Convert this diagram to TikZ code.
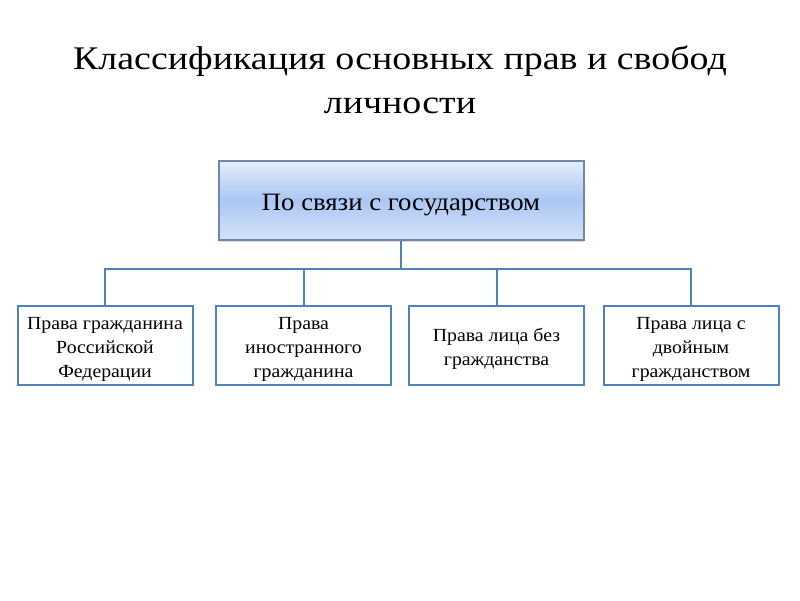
\documentclass[tikz,border=0pt]{standalone}
\usepackage{fontspec}
\setmainfont{Liberation Serif}
\newfontfamily\titlefont[FakeStretch=1.15]{Liberation Serif}
\newfontfamily\bodyfont[FakeStretch=1.07]{Liberation Serif}
\usetikzlibrary{shadows}
\definecolor{bord}{RGB}{79,129,189}
\definecolor{topbord}{RGB}{110,135,170}
\definecolor{gtop}{RGB}{228,237,252}
\definecolor{gmid}{RGB}{172,199,243}
\definecolor{gbot}{RGB}{212,226,250}
\newcommand\lowtext[1]{\raisebox{-4pt}[\height][\depth]{\begin{tabular}{@{}c@{}}#1\end{tabular}}}
\begin{document}
\begin{tikzpicture}[x=1pt,y=-1pt,
  leaf/.style={draw=bord,line width=2pt,minimum width=175pt,minimum height=79pt,font=\bodyfont\fontsize{18.5}{24}\selectfont,inner sep=1pt},
  conn/.style={draw=bord,line width=2pt}]
\useasboundingbox (0,0) rectangle (800,600);
\node[font=\titlefont\fontsize{33}{44}\selectfont,align=center] (title) at (400,80) {Классификация основных прав и свобод\\личности};
\node[draw=topbord,line width=2pt,minimum width=365pt,minimum height=79pt,
  top color=gtop,bottom color=gbot,middle color=gmid,shading=axis,
  drop shadow={shadow xshift=0pt,shadow yshift=-2pt,opacity=0.3},
  font=\bodyfont\fontsize{25}{30}\selectfont] (top) at (401,200) {\lowtext{По связи с государством}};
\node[leaf] (b1) at (105,345) {\lowtext{Права гражданина\\Российской\\Федерации}};
\node[leaf] (b2) at (303.5,345) {\lowtext{Права\\иностранного\\гражданина}};
\node[leaf] (b3) at (496.5,345) {\lowtext{Права лица без\\гражданства}};
\node[leaf] (b4) at (691,345) {\lowtext{Права лица с\\двойным\\гражданством}};
\coordinate (hub) at (401,269);
\draw[conn] (top.south) -- (hub);
\draw[conn] (b1.north) |- (hub) -| (b4.north);
\draw[conn] (b2.north) -- (b2.north |- hub);
\draw[conn] (b3.north) -- (b3.north |- hub);
\end{tikzpicture}
\end{document}
